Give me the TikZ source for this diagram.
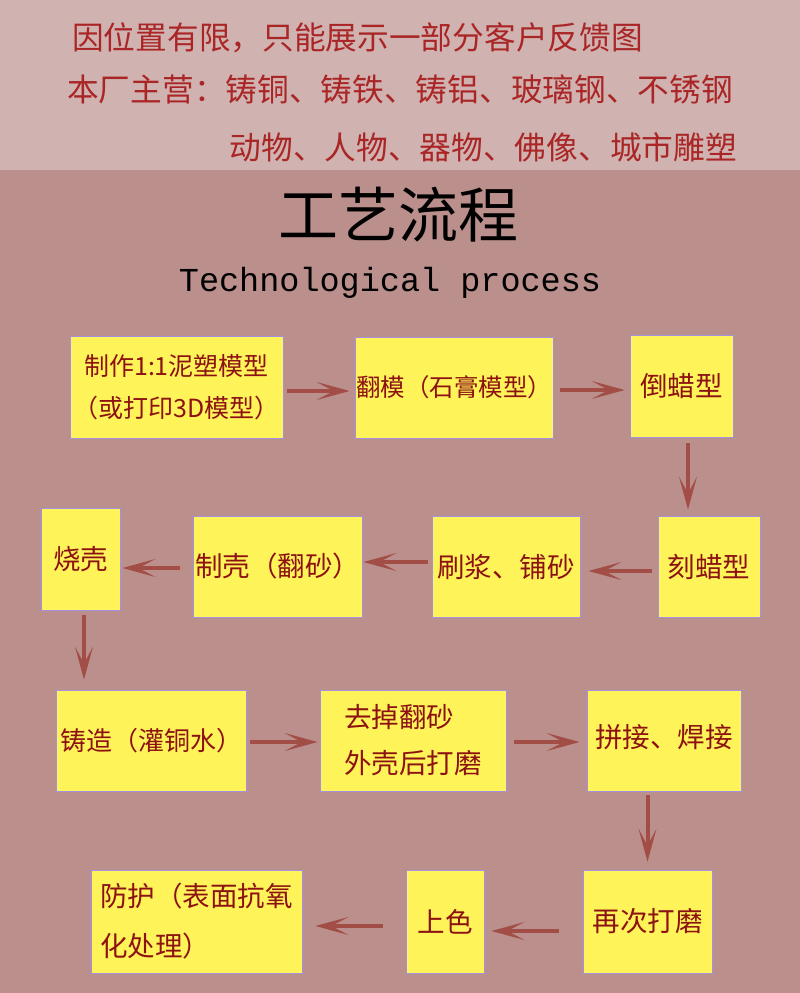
\documentclass[tikz,border=0pt]{standalone}
\usepackage{fontspec}
\setmainfont{Noto Sans CJK SC}
\newfontfamily\techfont{Liberation Mono}
\usetikzlibrary{arrows.meta,positioning}
\definecolor{bodybg}{RGB}{186,143,140}
\definecolor{bandbg}{RGB}{208,178,176}
\definecolor{notered}{RGB}{170,38,38}
\definecolor{boxfill}{RGB}{255,243,90}
\definecolor{boxline}{RGB}{165,145,225}
\definecolor{boxtext}{RGB}{140,18,18}
\definecolor{flowred}{RGB}{162,78,70}
\tikzset{
  stage/.style={draw=boxline,line width=0.8pt,fill=boxfill,text=boxtext,inner sep=0pt,
    align=center,font=\fontsize{27.5}{48}\selectfont},
  flow/.style={draw=flowred,line width=4pt,
    -{Stealth[length=33pt,width=18pt,inset=17pt,line width=1.5pt]}},
  note/.style={text=notered,inner sep=0pt,font=\fontsize{31.7}{32}\selectfont}
}

\begin{document}
\begin{tikzpicture}[x=1pt,y=-1pt]
        \useasboundingbox (0,0) rectangle (800,993);
        \fill[bodybg] (0,0) rectangle (800,993);
        \fill[bandbg] (0,0) rectangle (800,170);
        % header notes
        \node[note,anchor=west] (limit) at (72,38) {因位置有限，只能展示一部分客户反馈图};
        \node[note,anchor=west] (trade) at (67,89) {本厂主营：铸铜、铸铁、铸铝、玻璃钢、不锈钢};
        \node[note,anchor=east] (kinds) at (737,147) {动物、人物、器物、佛像、城市雕塑};
        \node[font=\fontsize{60}{60}\selectfont] (title) at (398.5,215) {工艺流程};
        \node[font=\techfont\fontsize{33.5}{34}\selectfont] (subtitle) at (390,283) {Technological process};
        % first row
        \node[stage,minimum width=213pt,minimum height=102pt,font=\fontsize{25}{42}\selectfont]
          (nisu) at (176.5,387) {制作1:1泥塑模型\\（或打印3D模型）};
        \node[stage,minimum width=198pt,minimum height=101pt,font=\fontsize{24.5}{25}\selectfont]
          (fanmo) at (454,387.5) {翻模（石膏模型）};
        \node[stage,minimum width=103pt,minimum height=102pt] (dala) at (681.5,386) {倒蜡型};
        % second row
        \node[stage,minimum width=102pt,minimum height=101pt] (kela) at (709,566.5) {\raisebox{-4pt}{刻蜡型}};
        \node[stage,minimum width=148pt,minimum height=101pt] (shuajiang) at (506,566.5) {\raisebox{-5pt}{刷浆、铺砂}};
        \node[stage,minimum width=169pt,minimum height=101pt] (zhike) at (277.5,566.5) {制壳（翻砂）};
        \node[stage,minimum width=79pt,minimum height=102pt] (shaoke) at (80.5,559) {\raisebox{-8pt}{烧壳}};
        % third row
        \node[stage,minimum width=190pt,minimum height=101pt,font=\fontsize{26}{26}\selectfont]
          (zhuzao) at (151,740.5) {铸造（灌铜水）};
        \node[stage,minimum width=186pt,minimum height=101pt,align=left,font=\fontsize{27.5}{46}\selectfont]
          (qudiao) at (413,740.5) {去掉翻砂\\外壳后打磨};
        \node[stage,minimum width=154pt,minimum height=101pt] (pinjie) at (664,740.5) {\raisebox{8.5pt}{拼接、焊接}};
        % last row
        \node[stage,minimum width=129pt,minimum height=103pt] (zaici) at (647.5,921.5) {\raisebox{-3.5pt}{再次打磨}};
        \node[stage,minimum width=78pt,minimum height=103pt] (shangse) at (445,921.5) {\raisebox{-3.5pt}{上色}};
        \node[stage,minimum width=211pt,minimum height=103pt,align=left,font=\fontsize{27.5}{50}\selectfont]
          (fanghu) at (196.5,921.5) {防护（表面抗氧\\化处理）};
        % flow arrows
        \draw[flow,shorten <=4pt,shorten >=5pt] ([yshift=-4pt]nisu.east) -- ([yshift=-4pt]nisu.east -| fanmo.west);
        \draw[flow,shorten <=7pt,shorten >=5pt] ([yshift=-2.5pt]fanmo.east) -- ([yshift=-2.5pt]fanmo.east -| dala.west);
        \draw[flow,shorten <=6pt,shorten >=6pt] ([xshift=6.5pt]dala.south) -- ([xshift=6.5pt]dala.south |- kela.north);
        \draw[flow,shorten <=6pt,shorten >=8pt] ([yshift=-4.5pt]kela.west) -- ([yshift=-4.5pt]kela.west -| shuajiang.east);
        \draw[flow,shorten <=4pt,shorten >=1pt] ([yshift=4.5pt]shuajiang.west) -- ([yshift=4.5pt]shuajiang.west -| zhike.east);
        \draw[flow,shorten <=13pt,shorten >=2pt] ([yshift=-1.5pt]zhike.west) -- ([yshift=-1.5pt]zhike.west -| shaoke.east);
        \draw[flow,shorten <=5pt,shorten >=10pt] ([xshift=3.5pt]shaoke.south) -- ([xshift=3.5pt]shaoke.south |- zhuzao.north);
        \draw[flow,shorten <=4pt,shorten >=2pt] ([yshift=-1.5pt]zhuzao.east) -- ([yshift=-1.5pt]zhuzao.east -| qudiao.west);
        \draw[flow,shorten <=8pt,shorten >=7pt] ([yshift=-1.5pt]qudiao.east) -- ([yshift=-1.5pt]qudiao.east -| pinjie.west);
        \draw[flow,shorten <=4pt,shorten >=8pt] (pinjie.south -| zaici.north) -- (zaici.north);
        \draw[flow,shorten <=24pt,shorten >=7pt] ([yshift=-9.5pt]zaici.west) -- ([yshift=-9.5pt]zaici.west -| shangse.east);
        \draw[flow,shorten <=23pt,shorten >=13pt] ([yshift=-4.5pt]shangse.west) -- ([yshift=-4.5pt]shangse.west -| fanghu.east);
      \end{tikzpicture}
\end{document}
